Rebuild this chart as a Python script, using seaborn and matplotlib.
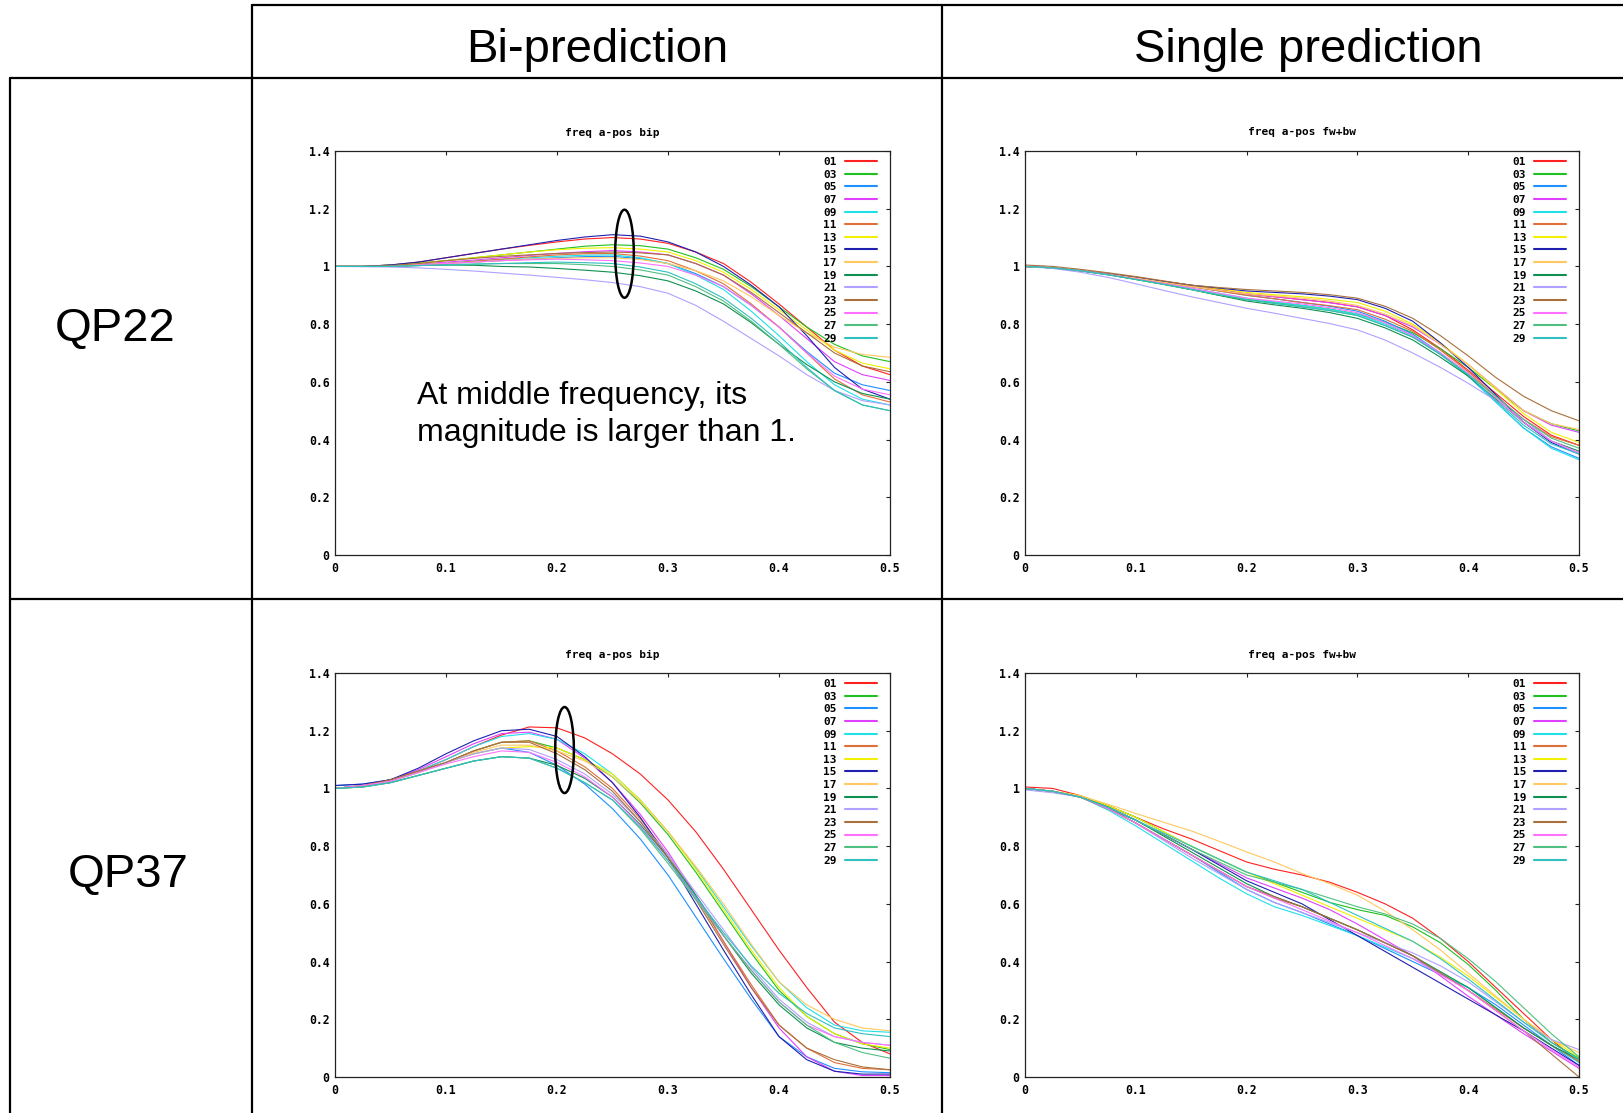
import pandas as pd
import matplotlib
matplotlib.use('Agg')
import matplotlib.pyplot as plt
import seaborn as sns
from matplotlib.lines import Line2D
from matplotlib.patches import Ellipse

W, H = 1624, 1113

freq = [0.0, 0.025, 0.05, 0.075, 0.1, 0.125, 0.15, 0.175, 0.2, 0.225, 0.25,
        0.275, 0.3, 0.325, 0.35, 0.375, 0.4, 0.425, 0.45, 0.475, 0.5]
series = ['01', '03', '05', '07', '09', '11', '13', '15', '17', '19', '21', '23', '25', '27', '29']
colors = ['#ff2020', '#20c020', '#1e90ff', '#e040ff', '#20e0e8', '#e0703a', '#f0f000', '#2020b0',
          '#ffc860', '#109050', '#b0a0ff', '#a8703c', '#ff70ff', '#50c080', '#30c0c0']

xticks = [0, 0.1, 0.2, 0.3, 0.4, 0.5]
xtick_labels = ['0', '0.1', '0.2', '0.3', '0.4', '0.5']
yticks = [0, 0.2, 0.4, 0.6, 0.8, 1.0, 1.2, 1.4]
ytick_labels = ['0', '0.2', '0.4', '0.6', '0.8', '1', '1.2', '1.4']

# QP22, bi-prediction
bip_qp22 = [
    [1.0, 1.0, 1.005, 1.015, 1.03, 1.045, 1.06, 1.073, 1.085, 1.095, 1.10, 1.095, 1.08, 1.05, 1.01, 0.945, 0.87, 0.79, 0.71, 0.655, 0.625],
    [1.0, 1.0, 1.005, 1.012, 1.02, 1.03, 1.04, 1.05, 1.06, 1.07, 1.075, 1.072, 1.06, 1.03, 0.99, 0.93, 0.86, 0.79, 0.73, 0.69, 0.67],
    [1.0, 1.0, 1.0, 1.005, 1.01, 1.015, 1.02, 1.025, 1.03, 1.034, 1.035, 1.027, 1.01, 0.975, 0.93, 0.865, 0.79, 0.705, 0.63, 0.59, 0.57],
    [1.0, 1.0, 1.003, 1.008, 1.015, 1.022, 1.03, 1.038, 1.045, 1.051, 1.055, 1.05, 1.04, 1.01, 0.97, 0.905, 0.83, 0.75, 0.67, 0.625, 0.605],
    [1.0, 1.0, 1.0, 1.005, 1.01, 1.018, 1.025, 1.03, 1.035, 1.039, 1.04, 1.03, 1.01, 0.97, 0.92, 0.845, 0.76, 0.67, 0.59, 0.54, 0.52],
    [1.0, 1.0, 1.0, 1.005, 1.01, 1.018, 1.025, 1.033, 1.04, 1.044, 1.045, 1.036, 1.02, 0.985, 0.94, 0.87, 0.79, 0.70, 0.61, 0.555, 0.53],
    [1.0, 1.0, 1.003, 1.01, 1.02, 1.03, 1.04, 1.05, 1.058, 1.063, 1.065, 1.06, 1.05, 1.02, 0.98, 0.92, 0.85, 0.78, 0.71, 0.665, 0.645],
    [1.0, 1.0, 1.005, 1.015, 1.03, 1.045, 1.06, 1.075, 1.09, 1.102, 1.11, 1.105, 1.085, 1.05, 1.0, 0.935, 0.86, 0.76, 0.65, 0.575, 0.54],
    [1.0, 1.0, 1.0, 1.005, 1.01, 1.015, 1.02, 1.025, 1.028, 1.03, 1.03, 1.024, 1.01, 0.985, 0.95, 0.895, 0.83, 0.77, 0.72, 0.695, 0.685],
    [1.0, 1.0, 1.0, 1.003, 1.005, 1.004, 1.0, 0.998, 0.993, 0.987, 0.98, 0.968, 0.95, 0.915, 0.87, 0.805, 0.73, 0.66, 0.60, 0.56, 0.54],
    [1.0, 0.999, 0.998, 0.995, 0.99, 0.984, 0.977, 0.97, 0.962, 0.954, 0.944, 0.93, 0.907, 0.865, 0.81, 0.75, 0.69, 0.625, 0.57, 0.535, 0.52],
    [1.0, 1.0, 1.003, 1.01, 1.02, 1.028, 1.035, 1.04, 1.045, 1.048, 1.05, 1.047, 1.04, 1.01, 0.97, 0.91, 0.84, 0.77, 0.70, 0.655, 0.635],
    [1.0, 1.0, 1.0, 1.005, 1.01, 1.015, 1.02, 1.023, 1.025, 1.023, 1.02, 1.012, 1.0, 0.97, 0.93, 0.865, 0.79, 0.70, 0.62, 0.575, 0.555],
    [1.0, 1.0, 1.0, 1.003, 1.005, 1.008, 1.01, 1.01, 1.01, 1.006, 1.0, 0.988, 0.97, 0.93, 0.88, 0.81, 0.73, 0.645, 0.57, 0.52, 0.50],
    [1.0, 1.0, 1.0, 1.003, 1.005, 1.008, 1.01, 1.013, 1.015, 1.013, 1.01, 0.998, 0.98, 0.94, 0.89, 0.82, 0.74, 0.65, 0.57, 0.52, 0.50],
]

# QP22, single prediction (fw+bw)
single_qp22 = [
    [1.0, 0.995, 0.985, 0.975, 0.962, 0.948, 0.935, 0.92, 0.905, 0.895, 0.885, 0.875, 0.86, 0.83, 0.78, 0.715, 0.64, 0.56, 0.48, 0.415, 0.38],
    [1.0, 0.995, 0.985, 0.972, 0.955, 0.938, 0.92, 0.90, 0.885, 0.875, 0.865, 0.852, 0.835, 0.807, 0.77, 0.715, 0.65, 0.575, 0.50, 0.455, 0.43],
    [1.0, 0.995, 0.985, 0.973, 0.96, 0.945, 0.93, 0.915, 0.90, 0.888, 0.875, 0.862, 0.845, 0.81, 0.765, 0.70, 0.62, 0.53, 0.44, 0.375, 0.335],
    [1.0, 0.995, 0.985, 0.973, 0.96, 0.945, 0.93, 0.917, 0.905, 0.895, 0.885, 0.874, 0.86, 0.83, 0.79, 0.73, 0.66, 0.58, 0.50, 0.45, 0.425],
    [1.0, 0.995, 0.985, 0.972, 0.958, 0.942, 0.925, 0.907, 0.89, 0.877, 0.865, 0.852, 0.835, 0.80, 0.76, 0.695, 0.62, 0.53, 0.44, 0.37, 0.33],
    [1.0, 0.995, 0.985, 0.973, 0.96, 0.945, 0.93, 0.915, 0.90, 0.888, 0.875, 0.864, 0.85, 0.817, 0.775, 0.71, 0.635, 0.55, 0.47, 0.41, 0.38],
    [1.0, 0.995, 0.985, 0.973, 0.96, 0.947, 0.935, 0.922, 0.91, 0.902, 0.895, 0.886, 0.875, 0.845, 0.80, 0.735, 0.66, 0.575, 0.49, 0.425, 0.39],
    [1.0, 0.995, 0.985, 0.974, 0.962, 0.948, 0.935, 0.925, 0.915, 0.91, 0.905, 0.897, 0.885, 0.855, 0.81, 0.735, 0.65, 0.555, 0.46, 0.39, 0.35],
    [1.0, 0.995, 0.985, 0.973, 0.96, 0.945, 0.93, 0.917, 0.905, 0.898, 0.89, 0.88, 0.865, 0.835, 0.795, 0.73, 0.66, 0.58, 0.50, 0.455, 0.435],
    [1.0, 0.995, 0.985, 0.971, 0.955, 0.938, 0.92, 0.90, 0.88, 0.867, 0.855, 0.84, 0.82, 0.787, 0.745, 0.685, 0.62, 0.54, 0.46, 0.395, 0.36],
    [1.0, 0.993, 0.98, 0.962, 0.94, 0.917, 0.895, 0.875, 0.855, 0.838, 0.82, 0.802, 0.78, 0.745, 0.70, 0.65, 0.595, 0.535, 0.47, 0.395, 0.35],
    [1.005, 1.0, 0.99, 0.978, 0.965, 0.95, 0.935, 0.927, 0.92, 0.915, 0.91, 0.902, 0.89, 0.862, 0.82, 0.76, 0.69, 0.615, 0.55, 0.50, 0.465],
    [1.0, 0.995, 0.985, 0.972, 0.957, 0.941, 0.925, 0.907, 0.89, 0.88, 0.87, 0.857, 0.84, 0.805, 0.76, 0.70, 0.63, 0.545, 0.46, 0.395, 0.355],
    [1.0, 0.995, 0.985, 0.971, 0.955, 0.938, 0.92, 0.902, 0.885, 0.872, 0.86, 0.847, 0.83, 0.795, 0.755, 0.695, 0.625, 0.55, 0.47, 0.405, 0.37],
    [1.0, 0.995, 0.985, 0.971, 0.955, 0.938, 0.92, 0.902, 0.885, 0.872, 0.86, 0.847, 0.83, 0.795, 0.755, 0.695, 0.625, 0.535, 0.45, 0.385, 0.35],
]

# QP37, bi-prediction
bip_qp37 = [
    [1.0, 1.01, 1.03, 1.06, 1.10, 1.145, 1.185, 1.213, 1.21, 1.175, 1.12, 1.05, 0.96, 0.85, 0.72, 0.58, 0.44, 0.31, 0.19, 0.12, 0.08],
    [1.0, 1.01, 1.025, 1.055, 1.09, 1.13, 1.16, 1.165, 1.14, 1.10, 1.04, 0.95, 0.84, 0.71, 0.57, 0.43, 0.30, 0.21, 0.15, 0.115, 0.095],
    [1.01, 1.015, 1.03, 1.06, 1.09, 1.12, 1.14, 1.125, 1.08, 1.015, 0.93, 0.825, 0.70, 0.555, 0.41, 0.27, 0.14, 0.07, 0.03, 0.018, 0.015],
    [1.0, 1.01, 1.03, 1.065, 1.11, 1.155, 1.19, 1.195, 1.17, 1.105, 1.02, 0.91, 0.78, 0.63, 0.47, 0.31, 0.17, 0.07, 0.02, 0.005, 0.005],
    [1.0, 1.01, 1.03, 1.06, 1.10, 1.145, 1.18, 1.19, 1.17, 1.12, 1.05, 0.96, 0.85, 0.725, 0.59, 0.455, 0.33, 0.24, 0.18, 0.16, 0.155],
    [1.0, 1.01, 1.03, 1.06, 1.09, 1.13, 1.16, 1.165, 1.13, 1.075, 1.00, 0.895, 0.77, 0.625, 0.47, 0.32, 0.18, 0.10, 0.05, 0.03, 0.025],
    [1.0, 1.01, 1.025, 1.055, 1.09, 1.12, 1.14, 1.145, 1.14, 1.10, 1.05, 0.96, 0.85, 0.72, 0.58, 0.44, 0.31, 0.21, 0.15, 0.115, 0.10],
    [1.01, 1.015, 1.03, 1.07, 1.12, 1.165, 1.20, 1.205, 1.18, 1.11, 1.02, 0.90, 0.76, 0.60, 0.44, 0.285, 0.14, 0.06, 0.02, 0.01, 0.01],
    [1.0, 1.01, 1.025, 1.055, 1.09, 1.125, 1.15, 1.15, 1.13, 1.095, 1.04, 0.955, 0.85, 0.73, 0.60, 0.46, 0.33, 0.25, 0.20, 0.17, 0.16],
    [1.0, 1.005, 1.02, 1.045, 1.07, 1.095, 1.11, 1.105, 1.08, 1.035, 0.97, 0.875, 0.76, 0.63, 0.49, 0.36, 0.25, 0.17, 0.12, 0.10, 0.09],
    [1.0, 1.01, 1.025, 1.055, 1.09, 1.12, 1.14, 1.135, 1.10, 1.05, 0.98, 0.885, 0.77, 0.64, 0.51, 0.38, 0.27, 0.19, 0.14, 0.12, 0.11],
    [1.0, 1.01, 1.03, 1.06, 1.09, 1.13, 1.16, 1.16, 1.12, 1.065, 0.99, 0.885, 0.76, 0.615, 0.46, 0.31, 0.18, 0.10, 0.06, 0.035, 0.025],
    [1.0, 1.01, 1.025, 1.055, 1.085, 1.11, 1.13, 1.125, 1.09, 1.04, 0.97, 0.87, 0.75, 0.62, 0.49, 0.37, 0.26, 0.18, 0.14, 0.12, 0.11],
    [1.0, 1.005, 1.02, 1.045, 1.07, 1.095, 1.11, 1.105, 1.07, 1.02, 0.96, 0.86, 0.74, 0.615, 0.49, 0.37, 0.26, 0.18, 0.12, 0.085, 0.065],
    [1.0, 1.005, 1.02, 1.045, 1.07, 1.095, 1.11, 1.105, 1.07, 1.02, 0.96, 0.865, 0.75, 0.625, 0.50, 0.385, 0.29, 0.22, 0.17, 0.15, 0.14],
]

# QP37, single prediction (fw+bw)
single_qp37 = [
    [1.005, 1.0, 0.975, 0.94, 0.90, 0.86, 0.825, 0.785, 0.745, 0.72, 0.70, 0.675, 0.64, 0.60, 0.55, 0.48, 0.40, 0.31, 0.22, 0.13, 0.05],
    [1.0, 0.99, 0.97, 0.94, 0.90, 0.85, 0.80, 0.755, 0.71, 0.675, 0.64, 0.605, 0.58, 0.56, 0.52, 0.465, 0.39, 0.30, 0.20, 0.12, 0.065],
    [1.0, 0.99, 0.97, 0.93, 0.88, 0.825, 0.77, 0.71, 0.65, 0.605, 0.57, 0.53, 0.49, 0.445, 0.40, 0.355, 0.31, 0.25, 0.18, 0.11, 0.04],
    [1.0, 0.99, 0.97, 0.935, 0.89, 0.84, 0.79, 0.74, 0.69, 0.655, 0.62, 0.58, 0.53, 0.475, 0.42, 0.35, 0.28, 0.215, 0.15, 0.09, 0.03],
    [1.0, 0.99, 0.97, 0.925, 0.87, 0.81, 0.75, 0.69, 0.635, 0.59, 0.56, 0.525, 0.49, 0.45, 0.41, 0.36, 0.31, 0.24, 0.17, 0.11, 0.05],
    [1.0, 0.99, 0.97, 0.93, 0.88, 0.825, 0.77, 0.715, 0.66, 0.62, 0.59, 0.55, 0.51, 0.465, 0.42, 0.36, 0.30, 0.235, 0.17, 0.11, 0.055],
    [1.0, 0.99, 0.975, 0.94, 0.90, 0.85, 0.80, 0.755, 0.71, 0.67, 0.63, 0.59, 0.55, 0.51, 0.47, 0.415, 0.35, 0.275, 0.20, 0.13, 0.07],
    [1.0, 0.99, 0.97, 0.935, 0.89, 0.84, 0.79, 0.735, 0.68, 0.64, 0.60, 0.545, 0.49, 0.435, 0.38, 0.325, 0.27, 0.215, 0.16, 0.10, 0.04],
    [1.0, 0.99, 0.975, 0.945, 0.913, 0.883, 0.853, 0.817, 0.78, 0.745, 0.705, 0.67, 0.63, 0.575, 0.51, 0.44, 0.36, 0.28, 0.20, 0.13, 0.085],
    [1.0, 0.99, 0.97, 0.93, 0.89, 0.835, 0.78, 0.725, 0.67, 0.625, 0.59, 0.55, 0.51, 0.465, 0.42, 0.365, 0.31, 0.24, 0.17, 0.11, 0.06],
    [0.995, 0.985, 0.97, 0.93, 0.88, 0.82, 0.76, 0.705, 0.65, 0.605, 0.57, 0.535, 0.50, 0.465, 0.43, 0.385, 0.33, 0.26, 0.19, 0.13, 0.095],
    [1.0, 0.99, 0.97, 0.93, 0.88, 0.825, 0.77, 0.715, 0.66, 0.625, 0.59, 0.55, 0.51, 0.465, 0.42, 0.36, 0.30, 0.23, 0.16, 0.08, 0.0],
    [1.0, 0.99, 0.97, 0.93, 0.88, 0.825, 0.77, 0.715, 0.66, 0.62, 0.58, 0.54, 0.50, 0.455, 0.41, 0.355, 0.30, 0.23, 0.16, 0.095, 0.035],
    [1.0, 0.99, 0.97, 0.935, 0.89, 0.84, 0.79, 0.745, 0.70, 0.675, 0.65, 0.62, 0.59, 0.565, 0.53, 0.48, 0.41, 0.33, 0.24, 0.15, 0.07],
    [1.0, 0.99, 0.97, 0.935, 0.89, 0.845, 0.80, 0.755, 0.71, 0.68, 0.65, 0.605, 0.56, 0.515, 0.47, 0.41, 0.34, 0.265, 0.19, 0.12, 0.06],
]

sns.set_style('white')
plt.rcParams['font.family'] = ['Liberation Sans', 'DejaVu Sans']
plt.rcParams['text.color'] = 'black'
mono = {'family': 'DejaVu Sans Mono', 'weight': 'bold', 'size': 8}

fig = plt.figure(figsize=(W / 100, H / 100), dpi=100)


def fx(x):
    return x / W


def fy(y):
    return 1 - y / H


def hline(x0, x1, y):
    fig.add_artist(Line2D([fx(x0), fx(x1)], [fy(y), fy(y)], color='black', lw=1.6,
                          transform=fig.transFigure))


def vline(x, y0, y1):
    fig.add_artist(Line2D([fx(x), fx(x)], [fy(y0), fy(y1)], color='black', lw=1.6,
                          transform=fig.transFigure))


# table grid
hline(252, W, 5)
hline(10, W, 78)
hline(10, W, 599)
vline(10, 78, H)
vline(252, 5, H)
vline(942, 5, H)

fig.text(fx(597), fy(62), 'Bi-prediction', ha='center', va='baseline', fontsize=34)
fig.text(fx(1308), fy(62), 'Single prediction', ha='center', va='baseline', fontsize=34)
fig.text(fx(115), fy(341), 'QP22', ha='center', va='baseline', fontsize=34)
fig.text(fx(128), fy(887), 'QP37', ha='center', va='baseline', fontsize=34)


def draw_panel(left, top, right, bottom, values, title, ellipse=None):
    ax = fig.add_axes([fx(left), fy(bottom), (right - left) / W, (bottom - top) / H])
    df = pd.DataFrame([(freq[j], row[j], series[i])
                       for i, row in enumerate(values) for j in range(len(freq))],
                      columns=['freq', 'mag', 'qp'])
    sns.lineplot(data=df, x='freq', y='mag', hue='qp', hue_order=series, palette=colors,
                 estimator=None, linewidth=0.8, legend=False, ax=ax)
    ax.set_xlim(0, 0.5)
    ax.set_ylim(0, 1.4)
    ax.set_xticks(xticks, labels=xtick_labels)
    ax.set_yticks(yticks, labels=ytick_labels)
    ax.set_xlabel('')
    ax.set_ylabel('')
    ax.tick_params(direction='in', length=3, width=0.8, top=True, right=True,
                   color='#222222', labelcolor='black')
    ax.tick_params(axis='x', pad=5)
    ax.tick_params(axis='y', pad=4)
    for lab in ax.get_xticklabels() + ax.get_yticklabels():
        lab.set_fontfamily('DejaVu Sans Mono')
        lab.set_fontweight('bold')
        lab.set_fontsize(8.3)
    for sp in ax.spines.values():
        sp.set_color('#222222')
        sp.set_linewidth(0.9)
    ax.text(0.5, 1 + 18.5 / (bottom - top), title, transform=ax.transAxes,
            ha='center', va='center', fontdict=mono)
    handles = [Line2D([], [], color=c, lw=1.5) for c in colors]
    ax.legend(handles, series, loc='upper right', bbox_to_anchor=(1 - 13 / (right - left), 0.985),
              markerfirst=False, frameon=False, prop=mono, handlelength=2.88,
              handletextpad=0.72, labelspacing=0.235, borderpad=0, borderaxespad=0)
    if ellipse is not None:
        ax.add_patch(Ellipse(ellipse[:2], ellipse[2], ellipse[3], fill=False,
                             lw=1.8, color='black', zorder=5))
    return ax


draw_panel(335, 151, 890, 555, bip_qp22, 'freq a-pos bip', (0.2608, 1.044, 0.0168, 0.305))
draw_panel(1025, 151, 1579, 555, single_qp22, 'freq a-pos fw+bw')
draw_panel(335, 673, 890, 1077, bip_qp37, 'freq a-pos bip', (0.2068, 1.133, 0.0168, 0.298))
draw_panel(1025, 673, 1579, 1077, single_qp37, 'freq a-pos fw+bw')

fig.text(fx(417), fy(404), 'At middle frequency, its', ha='left', va='baseline', fontsize=23)
fig.text(fx(417), fy(441), 'magnitude is larger than 1.', ha='left', va='baseline', fontsize=23)

fig.savefig('out.png', dpi=100)
